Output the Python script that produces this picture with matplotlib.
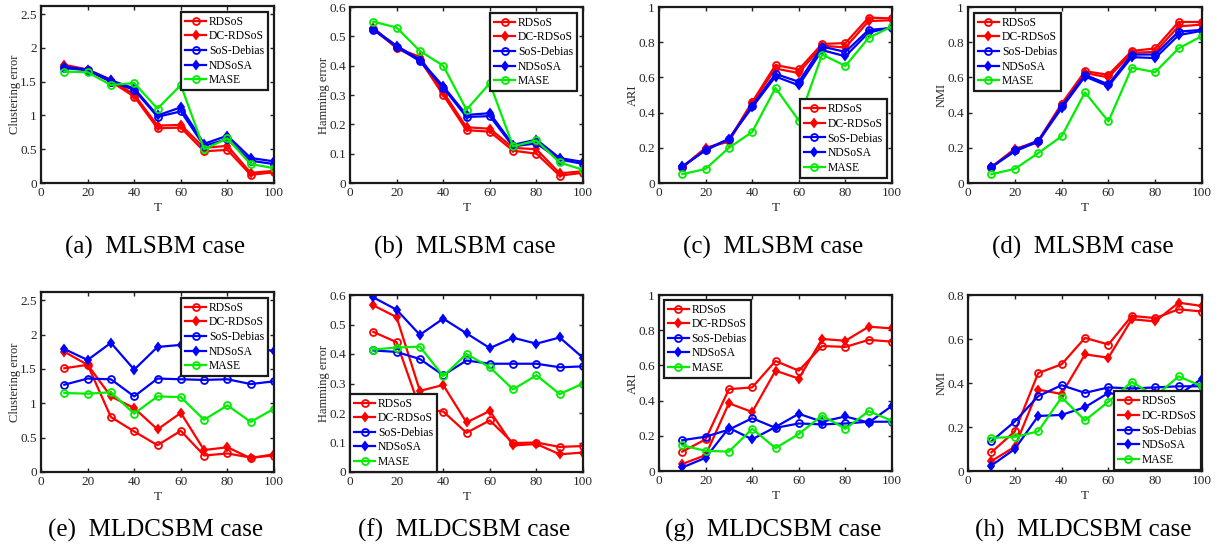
import matplotlib
matplotlib.use("Agg")
import matplotlib.pyplot as plt

plt.rcParams['font.family'] = ['Liberation Serif', 'DejaVu Serif']
plt.rcParams['mathtext.fontset'] = 'stix'

T = [10, 20, 30, 40, 50, 60, 70, 80, 90, 100]
methods = ['RDSoS', 'DC-RDSoS', 'SoS-Debias', 'NDSoSA', 'MASE']

# (a) MLSBM clustering error
a_vals = {
    'RDSoS':      [1.72, 1.67, 1.50, 1.28, 0.81, 0.82, 0.47, 0.49, 0.12, 0.16],
    'DC-RDSoS':   [1.75, 1.68, 1.53, 1.31, 0.85, 0.86, 0.52, 0.55, 0.15, 0.18],
    'SoS-Debias': [1.70, 1.67, 1.50, 1.38, 0.98, 1.06, 0.55, 0.65, 0.33, 0.28],
    'NDSoSA':     [1.72, 1.68, 1.52, 1.40, 1.00, 1.12, 0.58, 0.70, 0.37, 0.32],
    'MASE':       [1.65, 1.64, 1.45, 1.48, 1.10, 1.45, 0.50, 0.66, 0.28, 0.22],
}
# (b) MLSBM Hamming error
b_vals = {
    'RDSoS':      [0.525, 0.460, 0.420, 0.300, 0.180, 0.175, 0.110, 0.100, 0.025, 0.035],
    'DC-RDSoS':   [0.530, 0.460, 0.430, 0.310, 0.190, 0.185, 0.120, 0.115, 0.033, 0.040],
    'SoS-Debias': [0.522, 0.465, 0.415, 0.325, 0.225, 0.228, 0.125, 0.135, 0.080, 0.065],
    'NDSoSA':     [0.525, 0.468, 0.420, 0.330, 0.232, 0.238, 0.130, 0.148, 0.085, 0.072],
    'MASE':       [0.550, 0.530, 0.450, 0.400, 0.250, 0.340, 0.125, 0.145, 0.070, 0.045],
}
# (c) MLSBM ARI
c_vals = {
    'RDSoS':      [0.090, 0.195, 0.245, 0.460, 0.670, 0.645, 0.790, 0.795, 0.940, 0.935],
    'DC-RDSoS':   [0.090, 0.200, 0.235, 0.455, 0.650, 0.625, 0.780, 0.770, 0.920, 0.925],
    'SoS-Debias': [0.090, 0.190, 0.250, 0.440, 0.620, 0.575, 0.775, 0.745, 0.870, 0.880],
    'NDSoSA':     [0.095, 0.185, 0.250, 0.430, 0.605, 0.555, 0.755, 0.720, 0.855, 0.885],
    'MASE':       [0.050, 0.080, 0.200, 0.290, 0.540, 0.355, 0.730, 0.665, 0.825, 0.890],
}
# (d) MLSBM NMI
d_vals = {
    'RDSoS':      [0.090, 0.190, 0.240, 0.450, 0.635, 0.615, 0.750, 0.765, 0.915, 0.915],
    'DC-RDSoS':   [0.090, 0.195, 0.230, 0.445, 0.625, 0.600, 0.740, 0.745, 0.890, 0.900],
    'SoS-Debias': [0.090, 0.185, 0.240, 0.435, 0.615, 0.560, 0.730, 0.730, 0.860, 0.870],
    'NDSoSA':     [0.090, 0.180, 0.235, 0.425, 0.605, 0.550, 0.715, 0.710, 0.840, 0.865],
    'MASE':       [0.050, 0.080, 0.170, 0.265, 0.515, 0.350, 0.655, 0.630, 0.765, 0.835],
}
# (e) MLDCSBM clustering error
e_vals = {
    'RDSoS':      [1.51, 1.56, 0.80, 0.59, 0.39, 0.60, 0.24, 0.27, 0.21, 0.24],
    'DC-RDSoS':   [1.75, 1.56, 1.10, 0.93, 0.62, 0.86, 0.32, 0.36, 0.20, 0.26],
    'SoS-Debias': [1.27, 1.36, 1.35, 1.10, 1.36, 1.35, 1.34, 1.35, 1.28, 1.32],
    'NDSoSA':     [1.79, 1.63, 1.88, 1.49, 1.82, 1.85, 1.80, 1.78, 1.82, 1.76],
    'MASE':       [1.15, 1.14, 1.16, 0.85, 1.10, 1.09, 0.76, 0.97, 0.73, 0.92],
}
# (f) MLDCSBM Hamming error
f_vals = {
    'RDSoS':      [0.475, 0.440, 0.215, 0.205, 0.133, 0.175, 0.098, 0.100, 0.085, 0.088],
    'DC-RDSoS':   [0.565, 0.525, 0.275, 0.295, 0.168, 0.207, 0.090, 0.095, 0.060, 0.066],
    'SoS-Debias': [0.412, 0.407, 0.383, 0.328, 0.378, 0.367, 0.367, 0.367, 0.355, 0.358],
    'NDSoSA':     [0.592, 0.550, 0.465, 0.520, 0.470, 0.420, 0.455, 0.435, 0.456, 0.387],
    'MASE':       [0.415, 0.422, 0.425, 0.325, 0.400, 0.355, 0.280, 0.328, 0.264, 0.300],
}
# (g) MLDCSBM ARI
g_vals = {
    'RDSoS':      [0.110, 0.180, 0.465, 0.475, 0.625, 0.570, 0.710, 0.705, 0.745, 0.735],
    'DC-RDSoS':   [0.040, 0.090, 0.385, 0.335, 0.570, 0.525, 0.750, 0.740, 0.820, 0.810],
    'SoS-Debias': [0.175, 0.195, 0.235, 0.300, 0.245, 0.270, 0.265, 0.270, 0.280, 0.280],
    'NDSoSA':     [0.020, 0.075, 0.245, 0.180, 0.250, 0.325, 0.280, 0.310, 0.275, 0.370],
    'MASE':       [0.145, 0.115, 0.110, 0.240, 0.130, 0.210, 0.315, 0.240, 0.340, 0.285],
}
# (h) MLDCSBM NMI
h_vals = {
    'RDSoS':      [0.085, 0.180, 0.445, 0.485, 0.605, 0.575, 0.705, 0.695, 0.735, 0.725],
    'DC-RDSoS':   [0.045, 0.110, 0.370, 0.350, 0.530, 0.515, 0.690, 0.680, 0.765, 0.750],
    'SoS-Debias': [0.135, 0.225, 0.340, 0.390, 0.355, 0.380, 0.375, 0.380, 0.385, 0.385],
    'NDSoSA':     [0.025, 0.100, 0.250, 0.255, 0.290, 0.355, 0.335, 0.355, 0.345, 0.420],
    'MASE':       [0.150, 0.155, 0.180, 0.335, 0.230, 0.315, 0.405, 0.340, 0.430, 0.385],
}

ylabels = ['Clustering error', 'Hamming error', 'ARI', 'NMI'] * 2
captions = ['(a)  MLSBM case', '(b)  MLSBM case', '(c)  MLSBM case', '(d)  MLSBM case',
            '(e)  MLDCSBM case', '(f)  MLDCSBM case', '(g)  MLDCSBM case', '(h)  MLDCSBM case']
ylims = [2.62, 0.6, 1.0, 1.0, 2.62, 0.6, 1.0, 0.8]
yticks = [[0, 0.5, 1, 1.5, 2, 2.5], [0, 0.1, 0.2, 0.3, 0.4, 0.5, 0.6],
          [0, 0.2, 0.4, 0.6, 0.8, 1], [0, 0.2, 0.4, 0.6, 0.8, 1],
          [0, 0.5, 1, 1.5, 2, 2.5], [0, 0.1, 0.2, 0.3, 0.4, 0.5, 0.6],
          [0, 0.2, 0.4, 0.6, 0.8, 1], [0, 0.2, 0.4, 0.6, 0.8]]
ytlabels = [['0', '0.5', '1', '1.5', '2', '2.5'], ['0', '0.1', '0.2', '0.3', '0.4', '0.5', '0.6'],
            ['0', '0.2', '0.4', '0.6', '0.8', '1'], ['0', '0.2', '0.4', '0.6', '0.8', '1'],
            ['0', '0.5', '1', '1.5', '2', '2.5'], ['0', '0.1', '0.2', '0.3', '0.4', '0.5', '0.6'],
            ['0', '0.2', '0.4', '0.6', '0.8', '1'], ['0', '0.2', '0.4', '0.6', '0.8']]
legend_locs = ['upper right', 'upper right', 'lower right', 'upper left',
               'upper right', 'lower left', 'upper left', 'lower right']
legend_pads = [0.5, 0.5, 0.45, 0.5, 0.5, 0.0, 0.4, 0.1]
all_vals = [a_vals, b_vals, c_vals, d_vals, e_vals, f_vals, g_vals, h_vals]

colors = {'RDSoS': '#ff0000', 'DC-RDSoS': '#ff0000', 'SoS-Debias': '#0000ff',
          'NDSoSA': '#0000ff', 'MASE': '#00ee00'}
markers = {'RDSoS': 'o', 'DC-RDSoS': 'd', 'SoS-Debias': 'o', 'NDSoSA': 'd', 'MASE': 'o'}

W, H = 1221, 550
fig = plt.figure(figsize=(W / 100, H / 100), dpi=100)

# axes boxes in pixels: left, right, top, bottom
boxes = [(41, 274, 6, 183), (350, 583, 7, 183), (659, 892, 7, 183), (968, 1202, 7, 183),
         (41, 274, 292, 472), (350, 583, 295, 472), (659, 892, 295, 471), (968, 1202, 295, 471)]
cap_y = [247, 247, 247, 247, 530, 530, 530, 530]

for i, vals in enumerate(all_vals):
    l, r, t, b = boxes[i]
    ax = fig.add_axes([l / W, 1 - b / H, (r - l) / W, (b - t) / H])
    for m in methods:
        mk = markers[m]
        ax.plot(T, vals[m], color=colors[m], lw=1.6, marker=mk,
                markersize=5 if mk == 'o' else 4.5,
                markerfacecolor='none' if mk == 'o' else colors[m],
                markeredgewidth=1.3, label=m)
    ax.set_xlim(0, 100)
    ax.set_ylim(0, ylims[i])
    ax.set_xticks([0, 20, 40, 60, 80, 100])
    ax.set_yticks(yticks[i])
    ax.set_yticklabels(ytlabels[i])
    ax.tick_params(direction='in', top=True, right=True, length=3, width=1,
                   labelsize=9.5, colors='#222222', labelcolor='#262626', pad=3)
    for s in ax.spines.values():
        s.set_linewidth(1.6)
        s.set_color('#1a1a1a')
    ax.set_xlabel('T', fontsize=9.5, color='#262626', labelpad=2)
    ax.set_ylabel(ylabels[i], fontsize=9, color='#262626')
    ax.yaxis.set_label_coords(-0.085, 0.5)
    leg = ax.legend(loc=legend_locs[i], fontsize=8.4, frameon=True, fancybox=False,
                    labelspacing=0.22, handlelength=1.8, handletextpad=0.25,
                    borderpad=0.35, borderaxespad=legend_pads[i])
    leg.get_frame().set_edgecolor('#1a1a1a')
    leg.get_frame().set_linewidth(1.6)
    leg.get_frame().set_alpha(1)
    cx = (l + r) / 2 - 2
    fig.text(cx / W, 1 - cap_y[i] / H, captions[i], ha='center', va='center',
             fontsize=18, color='black')

fig.savefig('out.png', dpi=100)
